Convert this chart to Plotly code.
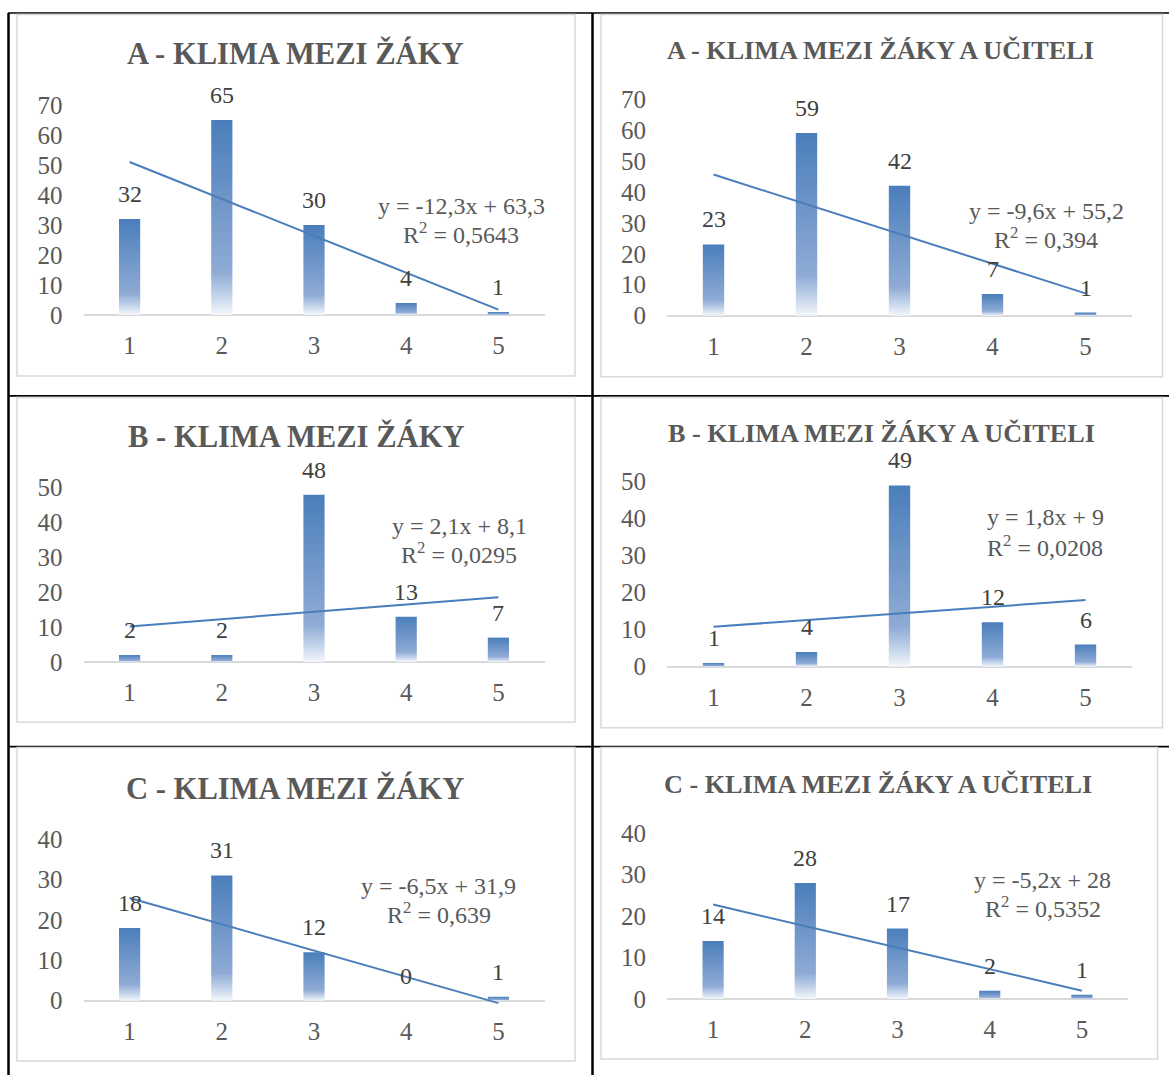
import numpy as np
import plotly.graph_objects as go

# ---------------- data ----------------
categories = [1, 2, 3, 4, 5]
x_tick_labels = ["1", "2", "3", "4", "5"]

chart_titles = [
    "A - KLIMA MEZI ŽÁKY",
    "A - KLIMA MEZI ŽÁKY A UČITELI",
    "B - KLIMA MEZI ŽÁKY",
    "B - KLIMA MEZI ŽÁKY A UČITELI",
    "C - KLIMA MEZI ŽÁKY",
    "C - KLIMA MEZI ŽÁKY A UČITELI",
]

values_a_zaci = [32, 65, 30, 4, 1]
values_a_ucitele = [23, 59, 42, 7, 1]
values_b_zaci = [2, 2, 48, 13, 7]
values_b_ucitele = [1, 4, 49, 12, 6]
values_c_zaci = [18, 31, 12, 0, 1]
values_c_ucitele = [14, 28, 17, 2, 1]

y_ticks_a = [0, 10, 20, 30, 40, 50, 60, 70]
y_ticks_b = [0, 10, 20, 30, 40, 50]
y_ticks_c = [0, 10, 20, 30, 40]

trend_equations = [
    "y = -12,3x + 63,3",
    "y = -9,6x + 55,2",
    "y = 2,1x + 8,1",
    "y = 1,8x + 9",
    "y = -6,5x + 31,9",
    "y = -5,2x + 28",
]
r_squared = ["0,5643", "0,394", "0,0295", "0,0208", "0,639", "0,5352"]

series = [values_a_zaci, values_a_ucitele, values_b_zaci,
          values_b_ucitele, values_c_zaci, values_c_ucitele]
y_ticks = [y_ticks_a, y_ticks_a, y_ticks_b, y_ticks_b, y_ticks_c, y_ticks_c]

# ---------------- layout (pixel geometry) ----------------
W, H = 1169, 1075
FONT = "Liberation Serif"
TXT = "#595959"
LBL = "#404040"
BLUE = "#4A7EBB"
GRAD = [[0.0, "#F4F7FB"], [0.1, "#C3D3EA"], [0.22, "#8FABD5"], [1.0, "#4A7EBB"]]
TICK_SIZE = 25
LABEL_SIZE = 24

# x0,x1 : plot x extent; yz: pixel of value 0; yt: pixel of top tick; box; title pos/size; eq pos; r2 pos
geo = [
    dict(x0=83.5, x1=544.5, yz=315.0, yt=105.0, box=(17, 14.5, 575, 376), title=(295.6, 53.7, 30.6), eq=(461, 206), r2=(461, 233)),
    dict(x0=667, x1=1132, yz=315.7, yt=99.0, box=(601, 14.5, 1162.5, 376.7), title=(880, 50.3, 26.2), eq=(1046, 211), r2=(1046, 238)),
    dict(x0=83.5, x1=544.5, yz=662.0, yt=487.7, box=(17, 397.5, 575, 722.3), title=(296, 436, 30.6), eq=(459, 525.7), r2=(459, 553)),
    dict(x0=667, x1=1132, yz=666.7, yt=481.7, box=(601, 397.5, 1162.5, 727.7), title=(881, 433, 26.2), eq=(1045, 516.7), r2=(1045, 545.7)),
    dict(x0=83.5, x1=544.5, yz=1000.7, yt=839.0, box=(17, 747.5, 575, 1061), title=(295, 788, 30.6), eq=(438, 885.7), r2=(439, 913)),
    dict(x0=667, x1=1128, yz=999.0, yt=833.3, box=(601, 747.5, 1157.5, 1059), title=(878, 784.5, 26.2), eq=(1042, 880), r2=(1043, 906.7)),
]

BAR_W = 0.23
PAD_PX = 4.0


def px(x):
    return x / W


def py(y):
    return 1 - y / H


fig = go.Figure()
shapes = []
annotations = []
layout_axes = {}

# table grid lines (black)
for (xa, ya, xb, yb, w) in [
    (8, 13, W, 13, 1.7),
    (8.5, 13, 8.5, H, 2.5),
    (592.5, 13, 592.5, H, 2.5),
    (8, 395.8, W, 395.8, 1.7),
    (8, 746.7, W, 746.7, 1.7),
]:
    shapes.append(dict(type="line", xref="paper", yref="paper", x0=px(xa), y0=py(ya),
                       x1=px(xb), y1=py(yb), line=dict(color="black", width=w), layer="below"))

for i, g in enumerate(geo):
    n = i + 1
    xs_name = "x" if n == 1 else f"x{n}"
    ys_name = "y" if n == 1 else f"y{n}"
    vals = series[i]
    ticks = y_ticks[i]
    ymax = ticks[-1]
    ppu = (g["yz"] - g["yt"]) / ymax
    ymin = -PAD_PX / ppu

    # chart box
    bx0, by0, bx1, by1 = g["box"]
    shapes.append(dict(type="rect", xref="paper", yref="paper", x0=px(bx0), y0=py(by1),
                       x1=px(bx1), y1=py(by0), fillcolor="white",
                       line=dict(color="#D9D9D9", width=1.5), layer="below"))

    # axes
    layout_axes["xaxis" if n == 1 else f"xaxis{n}"] = dict(
        domain=[px(g["x0"]), px(g["x1"])], range=[0.5, 5.5], anchor=ys_name,
        tickvals=categories, ticktext=x_tick_labels, showgrid=False, zeroline=False,
        showline=False, ticks="", ticklabelstandoff=9, fixedrange=True, automargin=False,
        tickfont=dict(family=FONT, size=TICK_SIZE, color=TXT))
    layout_axes["yaxis" if n == 1 else f"yaxis{n}"] = dict(
        domain=[py(g["yz"] + PAD_PX), py(g["yt"])], range=[ymin, ymax], anchor=xs_name,
        tickvals=ticks, ticktext=[str(t) for t in ticks], showgrid=False,
        zeroline=True, zerolinecolor="#D9D9D9", zerolinewidth=1.6, showline=False,
        ticks="", ticklabelstandoff=20, fixedrange=True, automargin=False,
        tickfont=dict(family=FONT, size=TICK_SIZE, color=TXT))

    # bars (gradient-filled rectangles in data coordinates)
    for c, v in zip(categories, vals):
        if v <= 0:
            continue
        fig.add_trace(go.Scatter(
            x=[c - BAR_W / 2, c + BAR_W / 2, c + BAR_W / 2, c - BAR_W / 2, c - BAR_W / 2],
            y=[0, 0, v, v, 0], mode="lines", fill="toself",
            fillgradient=dict(type="vertical", colorscale=GRAD, start=0, stop=v),
            line=dict(width=0, color="rgba(0,0,0,0)"), hoverinfo="skip",
            showlegend=False, xaxis=xs_name, yaxis=ys_name))

    # linear trendline (least squares from the data)
    slope, intercept = np.polyfit(categories, vals, 1)
    fit = [slope * c + intercept for c in categories]
    fig.add_trace(go.Scatter(x=categories, y=fit, mode="lines",
                             line=dict(color=BLUE, width=2), hoverinfo="skip",
                             showlegend=False, xaxis=xs_name, yaxis=ys_name))

    # data labels
    for c, v in zip(categories, vals):
        annotations.append(dict(x=c, y=v, xref=xs_name, yref=ys_name, text=str(v),
                                showarrow=False, yanchor="middle", xanchor="center",
                                yshift=25, font=dict(family=FONT, size=LABEL_SIZE, color=LBL)))

    # title
    tx, ty, ts = g["title"]
    annotations.append(dict(x=px(tx), y=py(ty), xref="paper", yref="paper",
                            text=chart_titles[i], showarrow=False, xanchor="center",
                            yanchor="middle",
                            font=dict(family=FONT, size=ts, color=TXT, weight="bold")))
    # trendline equation
    ex, ey = g["eq"]
    annotations.append(dict(x=px(ex), y=py(ey), xref="paper", yref="paper",
                            text=trend_equations[i], showarrow=False, xanchor="center",
                            yanchor="middle", font=dict(family=FONT, size=LABEL_SIZE, color=TXT)))
    rx, ry = g["r2"]
    annotations.append(dict(x=px(rx), y=py(ry), xref="paper", yref="paper",
                            text="R<sup>2</sup> = " + r_squared[i], showarrow=False,
                            xanchor="center", yanchor="middle",
                            font=dict(family=FONT, size=LABEL_SIZE, color=TXT)))

fig.update_layout(
    template="none",
    width=W, height=H, autosize=False,
    margin=dict(l=0, r=0, t=0, b=0, pad=0),
    paper_bgcolor="white", plot_bgcolor="rgba(0,0,0,0)",
    showlegend=False, shapes=shapes, annotations=annotations,
    font=dict(family=FONT, color=TXT),
    **layout_axes,
)

fig.write_html("out.html", config={"displayModeBar": False},
               post_script="document.body.style.margin='0';document.body.style.padding='0';")
